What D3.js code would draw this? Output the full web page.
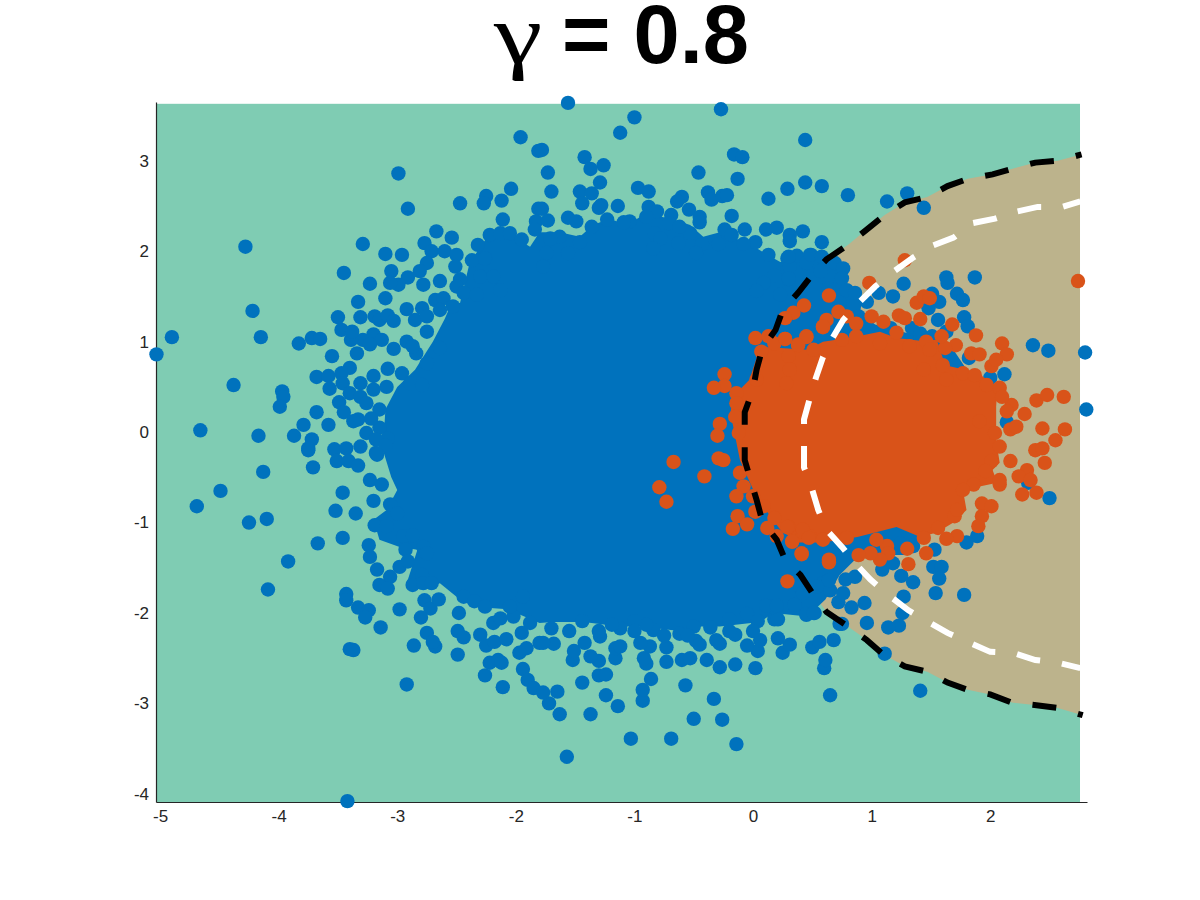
<!DOCTYPE html>
<html>
<head>
<meta charset="utf-8">
<script src="https://cdn.jsdelivr.net/npm/d3@7"></script>
<style>
  html, body { margin: 0; background: #fff; }
  svg { display: block; }
  text { font-family: "Liberation Sans", Arial, sans-serif; }
</style>
</head>
<body>
<svg id="chart" width="1200" height="900"></svg>
<script>
const xDomain = [-5.034, 2.816];
const yDomain = [-4.09, 3.65];
const fieldRight = 2.757;
const fieldTop = 3.63;
const xTicks = [-5, -4, -3, -2, -1, 0, 1, 2];
const yTicks = [-4, -3, -2, -1, 0, 1, 2, 3];

// outer boundary
const blackContour = [[2.77,3.07],[2.57,3.00],[2.38,2.98],[2.18,2.91],[2.02,2.85],[1.81,2.80],[1.64,2.72],[1.47,2.60],[1.28,2.54],[1.11,2.40],[0.94,2.22],[0.80,2.07],[0.62,1.91],[0.50,1.74],[0.38,1.54],[0.25,1.35],[0.19,1.13],[0.08,0.93],[0.03,0.69],[0,0.47],[-0.07,0.22],[-0.07,-0.01],[-0.07,-0.31],[-0.02,-0.53],[0.03,-0.75],[0.08,-0.99],[0.20,-1.19],[0.27,-1.41],[0.40,-1.58],[0.50,-1.78],[0.62,-1.99],[0.78,-2.13],[0.96,-2.30],[1.10,-2.46],[1.28,-2.59],[1.47,-2.65],[1.64,-2.77],[1.81,-2.85],[2.00,-2.90],[2.18,-2.99],[2.39,-3.02],[2.57,-3.05],[2.78,-3.13]];

const whiteContour = [[2.76,2.55],[2.61,2.49],[2.40,2.49],[2.23,2.44],[2.04,2.36],[1.85,2.31],[1.69,2.15],[1.51,2.06],[1.35,1.93],[1.18,1.77],[1.03,1.61],[0.89,1.43],[0.76,1.24],[0.67,1.04],[0.59,0.83],[0.53,0.60],[0.48,0.38],[0.43,0.14],[0.43,-0.14],[0.43,-0.39],[0.50,-0.64],[0.55,-0.86],[0.62,-1.08],[0.75,-1.27],[0.86,-1.45],[0.99,-1.63],[1.14,-1.80],[1.31,-1.97],[1.48,-2.10],[1.64,-2.22],[1.81,-2.32],[2.00,-2.43],[2.19,-2.44],[2.38,-2.52],[2.57,-2.55],[2.76,-2.61]];

// the points overlap completely inside these outlines
const blueCore = [[-3.12,-0.20],[-3.10,0.25],[-3.00,0.50],[-2.85,0.69],[-2.70,1.00],[-2.60,1.25],[-2.55,1.40],[-2.47,1.43],[-2.39,1.87],[-2.22,2.20],[-2.02,2.16],[-1.88,2.05],[-1.80,2.21],[-1.63,2.21],[-1.46,2.16],[-1.35,2.29],[-1.21,2.36],[-1.06,2.29],[-0.95,2.38],[-0.84,2.40],[-0.67,2.35],[-0.53,2.29],[-0.42,2.16],[-0.28,2.21],[-0.17,2.15],[-0.05,2.10],[0.12,1.96],[0.23,1.88],[0.59,1.93],[0.76,1.77],[0.78,1.60],[0.92,1.46],[0.90,1.30],[1.03,1.19],[1.66,0.97],[1.90,0.50],[1.90,-0.30],[1.60,-1.00],[1.49,-1.13],[1.28,-1.36],[0.90,-1.36],[0.73,-1.58],[0.61,-1.85],[0.46,-2.04],[0.17,-2.00],[0.06,-2.10],[-0.28,-2.15],[-0.47,-2.15],[-0.62,-2.20],[-0.95,-2.15],[-1.12,-2.15],[-1.43,-2.10],[-1.69,-2.10],[-1.80,-2.11],[-2.07,-1.96],[-2.36,-1.93],[-2.50,-1.82],[-2.64,-1.67],[-2.81,-1.74],[-2.92,-1.67],[-2.83,-1.30],[-2.98,-1.27],[-3.15,-1.19],[-3.20,-0.97],[-3.09,-0.86],[-3.00,-0.64],[-3.05,-0.50]];
const orangeCore = [[-0.19,0.21],[-0.17,0.39],[-0.03,0.58],[0.03,0.82],[0.10,0.94],[0.46,0.91],[0.59,1.00],[0.84,1.05],[1.07,1.11],[1.21,1.04],[1.41,1.01],[1.55,1.02],[1.62,0.74],[1.89,0.66],[2.06,0.50],[2.05,0.28],[2.05,-0.09],[2.08,-0.34],[2.02,-0.42],[2.06,-0.56],[1.77,-0.64],[1.80,-0.86],[1.69,-1.00],[1.55,-1.11],[1.41,-1.16],[1.21,-1.05],[0.88,-1.16],[0.59,-1.22],[0.37,-1.22],[0.23,-1.08],[0.03,-0.72],[-0.11,-0.31]];

const bluePoints = [[-1.96,3.26],[-1.81,3.11],[-2.99,2.86],[-2.91,2.47],[-4.28,2.05],[-3.29,2.08],[-3.10,1.97],[-2.96,1.96],[-3.45,1.76],[-3.23,1.64],[-3.05,1.78],[-3.10,1.48],[-3.33,1.44],[-4.22,1.34],[-3.50,1.27],[-3.31,1.27],[-4.90,1.05],[-4.15,1.05],[-3.83,0.98],[-3.72,1.04],[-3.65,1.03],[-5.03,0.86],[-3.55,0.84],[-3.03,0.92],[-4.38,0.52],[-3.97,0.45],[-3.96,0.39],[-3.99,0.28],[-4.66,0.02],[-4.17,-0.04],[-3.87,-0.04],[-3.79,0.08],[-3.68,0.22],[-3.58,0.08],
[-2.04,2.69],[-2.25,2.61],[-2.27,2.53],[-2.12,2.56],[-2.47,2.53],[-1.81,2.47],[-2.11,2.35],[-1.83,2.33],[-1.84,2.24],[-2.67,2.22],[-2.54,2.15],[-2.77,2.09],[-2.71,2.00],[-2.60,2.00],[-2.50,1.96],[-2.32,2.07],[-2.22,2.18],[-2.13,2.20],[-2.05,2.20],[-1.95,2.13],[-2.75,1.87],[-2.81,1.78],[-2.51,1.83],[-2.37,1.90],[-2.26,1.92],[-2.91,1.71],[-2.78,1.63],[-2.64,1.67],[-2.47,1.69],[-2.50,1.61],[-2.99,1.63],[-3.06,1.65],[-2.30,1.72],[-2.19,1.72],[-2.44,1.54],[-2.33,1.52],[-2.13,1.57],[-2.68,1.46],[-2.61,1.48],[-2.92,1.36],[-2.79,1.37],[-3.19,1.28],[-3.15,1.24],[-3.08,1.29],[-3.03,1.23],[-2.85,1.24],[-2.75,1.28],[-2.64,1.35],[-2.53,1.39],[-2.75,1.11],[-3.20,1.08],[-3.13,1.02],[-3.29,1.02],[-3.23,0.97],[-3.39,1.02],[-3.47,1.13],[-3.38,1.11],[-3.34,0.87],[-2.92,1.00],[-2.84,0.87],[-2.87,0.95],[-2.75,0.76],[-2.64,0.93],[-3.40,0.71],[-3.47,0.65],[-3.68,0.61],[-3.58,0.62],[-3.57,0.48],[-3.46,0.54],[-3.20,0.62],[-3.08,0.70],[-2.96,0.65],[-3.31,0.54],[-2.89,0.54],[-2.79,0.52],[-3.40,0.43],[-3.49,0.33],[-3.45,0.22],[-3.31,0.39],[-3.09,0.50],[-3.33,0.14],[-3.37,0.12],[-3.15,0.05],[-3.26,-0.01],[-3.72,-0.08],[-3.75,-0.18],[-3.53,-0.19],[-3.43,-0.18],[-3.31,-0.16],[-3.18,-0.23],[-3.08,-0.07],[-3.20,0.47],[-3.26,0.32],[-3.15,0.25],[-3.22,0.15],[-3.18,-0.08],[-3.10,-0.15],
[-3.75,-0.20],[-3.71,-0.39],[-3.51,-0.32],[-3.41,-0.32],[-3.33,-0.37],[-3.17,-0.25],[-3.23,-0.53],[-3.13,-0.58],[-4.13,-0.44],[-4.49,-0.65],[-4.69,-0.82],[-3.46,-0.67],[-3.20,-0.76],[-3.52,-0.87],[-3.35,-0.90],[-4.25,-1.00],[-4.10,-0.96],[-3.06,-0.80],[-3.00,-0.90],[-3.19,-1.03],[-3.09,-1.04],[-3.67,-1.23],[-3.46,-1.17],[-3.24,-1.25],[-3.23,-1.38],[-3.17,-1.52],[-3.92,-1.43],[-2.95,-1.15],[-2.87,-1.14],[-2.93,-1.30],[-2.98,-1.49],[-2.91,-1.43],[-2.78,-1.27],[-2.75,-1.34],[-4.09,-1.74],[-3.06,-1.60],[-3.15,-1.69],[-3.08,-1.73],[-2.87,-1.69],[-2.79,-1.58],[-2.78,-1.67],[-2.71,-1.67],[-3.43,-1.79],[-3.43,-1.86],[-3.33,-1.94],[-3.24,-1.97],[-3.27,-2.05],[-3.14,-2.16],[-2.98,-1.96],[-2.77,-1.86],[-2.72,-1.95],[-2.65,-1.85],[-2.80,-2.05],[-2.48,-2.00],[-2.44,-1.82],[-2.35,-1.87],[-2.26,-1.93],[-2.49,-2.20],[-2.44,-2.27],[-2.75,-2.22],[-2.86,-2.36],[-2.68,-2.37],[-2.70,-2.32],[-2.30,-2.24],[-2.25,-2.36],[-2.18,-2.32],[-2.08,-2.29],[-2.19,-2.11],[-1.95,-2.22],[-1.91,-2.39],[-1.97,-2.44],[-1.80,-2.33],[-2.49,-2.46],[-3.40,-2.40],[-3.37,-2.41],[-2.22,-2.55],[-2.15,-2.52],[-2.12,-2.55],[-2.26,-2.69],[-1.94,-2.62],[-1.90,-2.74],[-1.85,-2.83],[-2.11,-2.82],[-2.92,-2.79],[-3.42,-4.08],[-2.13,-2.06],[-2.02,-2.04],[-1.88,-2.11],[-2.05,-1.93],[-1.94,-1.82],
[-1.56,3.64],[-0.27,3.57],[-1.00,3.48],[-1.12,3.31],[0.44,3.23],[-1.78,3.12],[-1.42,3.04],[-1.26,2.95],[-1.37,2.91],[-0.16,3.07],[-0.09,3.04],[-0.46,2.87],[-0.13,2.80],[-1.73,2.87],[-1.29,2.76],[-1.70,2.66],[-1.46,2.66],[-1.36,2.64],[-1.44,2.53],[-0.97,2.70],[-0.88,2.66],[0.29,2.69],[0.44,2.76],[0.13,2.58],[-0.38,2.65],[-0.35,2.57],[-0.26,2.61],[-0.22,2.62],[-0.60,2.60],[-0.64,2.55],[-1.28,2.51],[-1.14,2.50],[-1.30,2.48],[-1.78,2.47],[-0.88,2.49],[-0.81,2.44],[-0.18,2.39],[-0.54,2.46],[-0.69,2.40],[-0.45,2.38],[-0.90,2.38],[-1.56,2.37],[-1.49,2.33],[-1.73,2.34],[-1.23,2.35],[-1.04,2.33],[-1.09,2.32],[-0.07,2.24],[0.11,2.24],[0.20,2.26],[0.42,2.22],[0.31,2.18],[0.31,2.11],[-0.45,2.32],[-0.71,2.31],[-1.36,2.27],[-0.24,2.24],[-0.18,2.18],[-0.53,2.20],[-0.62,2.27],[-0.83,2.20],[-0.78,2.14],[-1.63,2.16],[-1.71,2.14],[-1.46,2.10],[-0.43,2.08],[-0.63,2.09],[0.02,2.10],[-0.08,2.08],[-0.29,2.08],[-0.48,1.98],[0.13,1.96],[0.37,1.95],[0.29,1.92],[0.48,1.96],[-1.74,1.98],[-1.56,1.98],[-0.84,2.03],[0.31,1.83],[0.45,1.87],[-1.77,1.83],[0.18,1.73],[0.30,1.69],[0.09,1.65],[0.23,1.52],[0.03,1.56],
[-1.57,-3.59],[-1.03,-3.39],[-0.69,-3.39],[-0.14,-3.45],[-0.50,-3.17],[-0.26,-3.18],[-0.33,-2.95],[-0.57,-2.80],[0.65,-2.91],[-0.93,-2.97],[-0.93,-2.85],[-0.86,-2.73],[-1.14,-3.03],[-1.24,-2.91],[-1.44,-2.77],[-1.37,-3.12],[-1.63,-3.12],[-1.72,-3.00],[-1.65,-2.87],[-1.77,-2.88],[-1.30,-2.69],[-1.24,-2.68],[-1.30,-2.53],[-1.52,-2.52],[-1.51,-2.42],[-1.42,-2.33],[-1.37,-2.48],[-1.16,-2.50],[-0.90,-2.56],[-0.92,-2.50],[-0.73,-2.54],[-0.60,-2.52],[-0.53,-2.50],[-0.39,-2.52],[-0.28,-2.60],[-0.15,-2.57],[0.02,-2.61],[0.04,-2.42],[-0.05,-2.36],[0.06,-2.30],[0.25,-2.44],[0.31,-2.35],[0.21,-2.28],[0.50,-2.38],[0.56,-2.32],[0.68,-2.30],[0.60,-2.61],[0.61,-2.52],[0.73,-2.12],[0.45,-2.02],[0.52,-2.00],[0.35,-1.91],[0.18,-2.07],[0.21,-2.07],[0.17,-1.93],[0.11,-1.92],[0.20,-1.92],[-0.05,-2.01],[0.04,-2.09],[-0.20,-2.07],[-0.15,-2.24],[-0.28,-2.34],[-0.31,-2.30],[-0.48,-2.31],[-0.45,-2.35],[-0.62,-2.23],[-0.50,-2.15],[-0.36,-2.16],[-0.73,-2.38],[-0.87,-2.37],[-0.84,-2.19],[-0.90,-2.13],[-1.00,-2.09],[-0.95,-2.33],[-1.12,-2.17],[-1.16,-2.39],[-1.29,-2.26],[-1.12,-2.37],[-1.68,-2.34],[-1.77,-2.33],[-1.70,-2.17],[-1.44,-2.09],[-1.19,-2.13],[0.40,-1.71],[0.59,-1.67],[0.65,-1.75],[-1.55,-2.20],[-1.30,-2.20],[-1.00,-2.20],[-0.75,-2.25],[-0.55,-2.25],[-0.20,-2.20],[0.00,-2.20],
[0.58,2.72],[0.80,2.62],[1.13,2.55],[1.30,2.64],[1.44,2.48],[0.58,2.10],[0.30,1.94],[0.49,1.96],[0.58,1.94],[0.69,1.87],[0.76,1.81],[0.75,1.70],[0.57,1.78],[0.30,1.70],[0.79,1.57],[0.86,1.54],[0.96,1.44],[1.06,1.54],[1.18,1.50],[1.27,1.64],[1.63,1.71],[1.64,1.65],[1.87,1.71],[1.72,1.53],[1.77,1.46],[1.51,1.53],[1.57,1.44],[1.48,1.37],[1.56,1.24],[1.78,1.27],[1.81,1.17],[2.36,0.96],[2.49,0.90],[2.80,0.88],[2.81,0.25],[2.12,0.64],[1.82,0.82],[0.64,1.59],[0.73,1.43],[0.89,1.28],[1.34,1.15],[1.41,1.09],[1.63,1.11],[0.97,1.15],[1.16,1.15],[1.51,1.06],[2.00,0.60],
[2.50,-0.73],[2.32,-0.56],[1.89,-1.15],[1.80,-1.22],[1.53,-1.30],[1.52,-1.49],[1.59,-1.49],[1.57,-1.62],[1.54,-1.78],[1.78,-1.80],[1.35,-1.26],[1.24,-1.23],[1.25,-1.59],[1.35,-1.66],[1.27,-1.82],[1.26,-2.00],[1.23,-2.14],[1.14,-2.16],[0.96,-2.11],[0.94,-1.89],[0.83,-1.94],[0.72,-1.88],[0.76,-1.78],[0.78,-1.63],[0.86,-1.60],[0.64,-1.64],[0.75,-2.12],[1.11,-2.45],[1.41,-2.86],[1.09,-1.52],[1.18,-1.45],[0.54,-1.71],[0.42,-1.78],[0.35,-1.91],[0.45,-2.01],[0.51,-2.00],[2.14,0.11]];

const orangePoints = [[2.74,1.67],[1.28,1.90],[0.98,1.65],[0.64,1.51],[0.43,1.40],[0.34,1.32],[0.72,1.33],[0.79,1.28],[0.59,1.16],[0.62,1.24],[0.87,1.20],[1.00,1.28],[1.10,1.22],[1.23,1.29],[1.28,1.26],[1.41,1.25],[1.38,1.43],[1.44,1.50],[1.49,1.48],[1.68,1.19],[1.88,1.07],[2.10,0.98],[2.14,0.86],[2.01,0.73],[2.05,0.80],[1.84,0.87],[1.91,0.86],[1.71,0.96],[1.62,0.93],[1.60,0.74],[1.21,1.10],[0.27,1.03],[0.45,1.06],[0.38,0.97],[0.51,0.91],[0.30,0.84],[0.31,0.69],[0.75,1.02],[1.46,1.00],[1.59,1.06],[1.77,0.65],[1.87,0.63],[1.97,0.52],[2.08,0.49],[2.18,0.30],[2.29,0.20],[2.39,0.35],[2.48,0.41],[2.62,0.39],[1.07,0.98],[0.87,1.06],[0.28,0.54],[1.32,0.95],[1.49,0.91],[1.44,0.69],[1.63,0.58],[2.10,0.39],[2.14,0.23],
[2.63,0.03],[2.55,-0.09],[2.44,0.04],[2.38,-0.20],[2.44,-0.18],[2.46,-0.34],[2.31,-0.42],[2.24,-0.49],[2.34,-0.53],[2.27,-0.69],[2.39,-0.67],[2.08,-0.58],[2.08,-0.53],[2.17,-0.32],[2.01,-0.32],[1.96,-0.43],[2.17,0.03],[2.22,0.06],[2.04,-0.01],[2.08,-0.16],[1.93,-0.79],[2.01,-0.82],[1.93,-0.93],[1.90,-1.04],[1.72,-1.15],[1.63,-1.18],[1.56,-1.06],[1.70,-0.93],[1.72,-0.86],[1.86,-0.58],[1.46,-1.34],[1.30,-1.29],[1.31,-1.46],[1.13,-1.26],[1.14,-1.34],[1.07,-1.41],[0.99,-1.34],[0.89,-1.36],[0.64,-1.44],[0.41,-1.35],[0.29,-1.65],[0.33,-1.21],[0.42,-1.10],[0.30,-1.05],[0.48,-1.15],[0.59,-1.19],[1.44,-1.17],[1.04,-1.19],[0.79,-1.17],[1.91,0.12],[1.77,-0.64],
[0.27,1.26],[0.59,1.17],[0.02,1.04],[0.13,1.06],[0.18,0.98],[0.27,1.03],[0.45,1.05],[0.38,0.96],[0.07,0.89],[-0.24,0.64],[-0.24,0.51],[-0.33,0.49],[-0.14,0.43],[-0.14,0.32],[0.03,0.58],[-0.15,0.17],[-0.28,0.09],[-0.30,-0.04],[-0.12,-0.01],[-0.29,-0.29],[-0.25,-0.31],[-0.67,-0.33],[-0.41,-0.49],[-0.79,-0.61],[-0.73,-0.77],[-0.11,-0.45],[-0.08,-0.60],[-0.14,-0.71],[0.02,-0.88],[0.09,-0.82],[0.00,-0.71],[-0.13,-0.93],[-0.05,-1.02],[-0.17,-1.07],[0.18,-0.95],[0.12,-1.06],[0.29,-1.05],[0.20,-1.15],[0.33,-1.21],[0.42,-1.08],[0.47,-1.17],[0.41,-1.34],[0.64,-1.41]];

const green = '#7fccb3';
const tan = '#bcb38c';
const blue = '#0072bd';
const orange = '#d95319';
const axisColor = '#262626';

const svg = d3.select('#chart');
const x = d3.scaleLinear().domain(xDomain).range([156, 1087]);
const y = d3.scaleLinear().domain(yDomain).range([802, 102]);
const line = d3.line().x(d => x(d[0])).y(d => y(d[1]));

svg.append('defs').append('clipPath').attr('id', 'field')
  .append('rect')
  .attr('x', x(xDomain[0]))
  .attr('y', y(fieldTop))
  .attr('width', x(fieldRight) - x(xDomain[0]))
  .attr('height', y(yDomain[0]) - y(fieldTop));

// decision regions
svg.append('rect')
  .attr('x', x(xDomain[0]))
  .attr('y', y(fieldTop))
  .attr('width', x(fieldRight) - x(xDomain[0]))
  .attr('height', y(yDomain[0]) - y(fieldTop))
  .attr('fill', green);
svg.append('path')
  .attr('d', line(blackContour) + 'Z')
  .attr('clip-path', 'url(#field)')
  .attr('fill', tan);

// axes
const xAxis = svg.append('g')
  .attr('transform', `translate(0,${y(yDomain[0])})`)
  .call(d3.axisBottom(x).tickValues(xTicks).tickSize(0).tickPadding(8).tickFormat(d => String(d)));
const yAxis = svg.append('g')
  .attr('transform', `translate(${x(xDomain[0])},0)`)
  .call(d3.axisLeft(y).tickValues(yTicks).tickSize(0).tickPadding(7).tickFormat(d => String(d)));
[xAxis, yAxis].forEach(a => {
  a.select('.domain').attr('stroke', axisColor).attr('stroke-width', 1.2);
  a.selectAll('text').attr('fill', axisColor).style('font-size', '17px').style('font-family', '"Liberation Sans", Arial, sans-serif');
});

// scatter
svg.append('path').attr('d', line(blueCore) + 'Z').attr('fill', blue);
svg.selectAll('.blue').data(bluePoints).enter().append('circle')
  .attr('class', 'blue')
  .attr('cx', d => x(d[0])).attr('cy', d => y(d[1])).attr('r', 7.2)
  .attr('fill', blue);
svg.append('path').attr('d', line(orangeCore) + 'Z').attr('fill', orange);
svg.selectAll('.orange').data(orangePoints).enter().append('circle')
  .attr('class', 'orange')
  .attr('cx', d => x(d[0])).attr('cy', d => y(d[1])).attr('r', 7.2)
  .attr('fill', orange);

// contours
[[blackContour, '#000', 18, '24 22.5'], [whiteContour, '#fff', 6, '24 22']].forEach(c => {
  svg.append('path')
    .attr('d', line(c[0]))
    .attr('fill', 'none')
    .attr('stroke', c[1])
    .attr('stroke-width', 6)
    .attr('stroke-dasharray', c[3])
    .attr('stroke-dashoffset', c[2]);
});

// title
svg.append('text')
  .attr('transform', 'translate(494,63) scale(1.3,1)')
  .style('font-family', '"Liberation Serif", serif')
  .style('font-size', '84px')
  .attr('fill', '#000')
  .text('γ');
svg.append('text')
  .attr('x', 562).attr('y', 63)
  .style('font-size', '83px')
  .style('font-weight', 'bold')
  .attr('fill', '#000')
  .text('= 0.8');
</script>
</body>
</html>
